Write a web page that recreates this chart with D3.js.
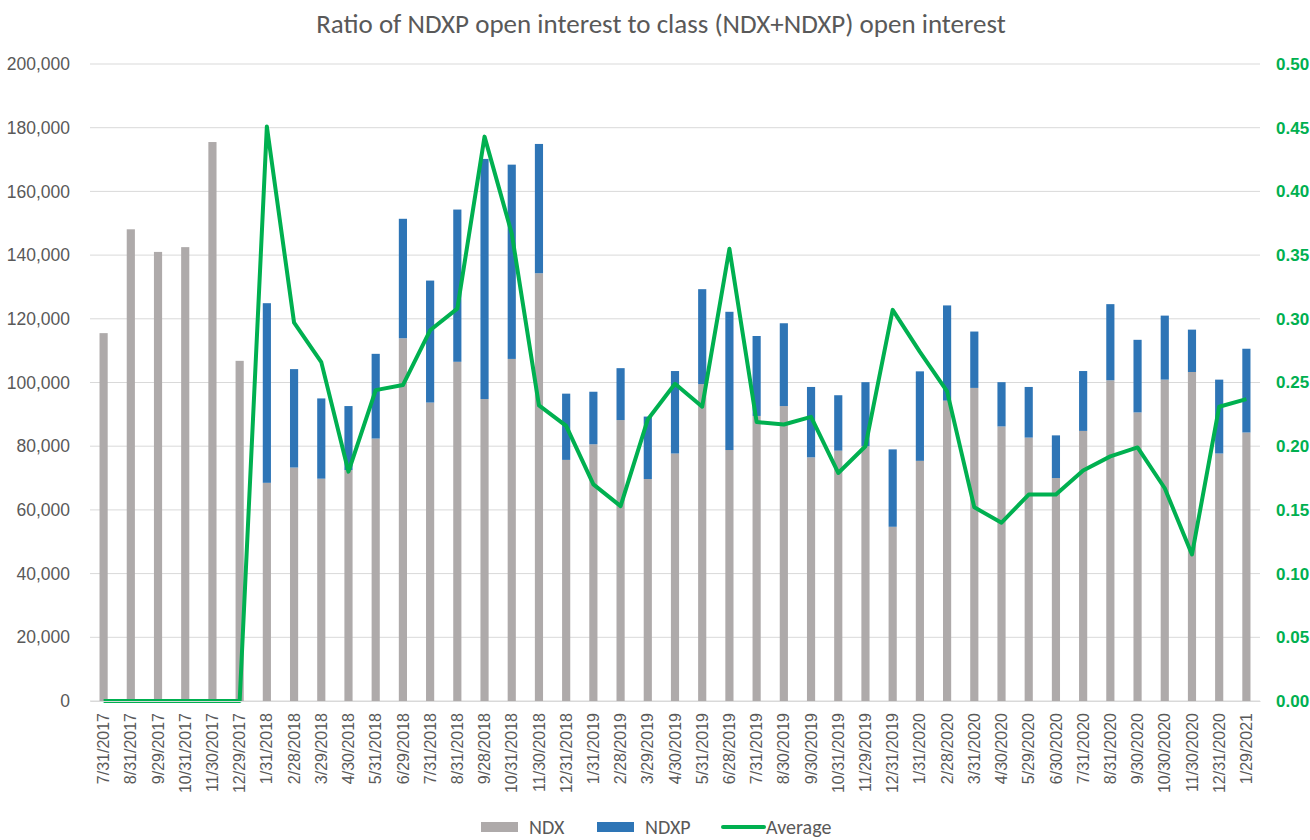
<!DOCTYPE html>
<html>
<head>
<meta charset="utf-8">
<script src="https://cdn.jsdelivr.net/npm/d3@7"></script>
<style>
  body { margin: 0; background: #fff; }
  svg { font-family: Calibri, Carlito, Lato, "Open Sans", sans-serif; }
</style>
</head>
<body>
<svg id="chart"></svg>
<script>
const dates = ['7/31/2017','8/31/2017','9/29/2017','10/31/2017','11/30/2017','12/29/2017',
  '1/31/2018','2/28/2018','3/29/2018','4/30/2018','5/31/2018','6/29/2018','7/31/2018','8/31/2018',
  '9/28/2018','10/31/2018','11/30/2018','12/31/2018','1/31/2019','2/28/2019','3/29/2019','4/30/2019',
  '5/31/2019','6/28/2019','7/31/2019','8/30/2019','9/30/2019','10/31/2019','11/29/2019','12/31/2019',
  '1/31/2020','2/28/2020','3/31/2020','4/30/2020','5/29/2020','6/30/2020','7/31/2020','8/31/2020',
  '9/30/2020','10/30/2020','11/30/2020','12/31/2020','1/29/2021'];

const ndx = [115500,148100,141000,142500,175500,106800,
  68500,73300,69800,72500,82400,113900,93700,106500,
  94800,107400,134300,75700,80600,88200,69700,77700,
  99500,78800,89500,92600,76500,78600,80000,54700,
  75400,94300,98300,86200,82700,70000,84800,100700,
  90600,100900,103300,77700,84300];

const totals = [115500,148100,141000,142500,175500,106800,
  124900,104200,95000,92600,109000,151400,132000,154300,
  170200,168400,174900,96500,97100,104500,89300,103600,
  129300,122200,114600,118600,98600,96000,100100,79000,
  103500,124200,116000,100100,98600,83400,103600,124600,
  113400,121000,116600,100900,110600];

const ndxp = totals.map((t, i) => t - ndx[i]);

const average = [0,0,0,0,0,0,
  0.451,0.297,0.266,0.180,0.244,0.248,0.291,0.308,
  0.443,0.367,0.232,0.216,0.170,0.153,0.221,0.249,
  0.231,0.355,0.219,0.217,0.223,0.179,0.200,0.307,
  0.274,0.243,0.152,0.140,0.162,0.162,0.181,0.192,
  0.199,0.167,0.115,0.231,0.237];

const leftTicks = [0,20000,40000,60000,80000,100000,120000,140000,160000,180000,200000];
const rightTicks = [0,0.05,0.1,0.15,0.2,0.25,0.3,0.35,0.4,0.45,0.5];

const width = 1310, height = 840;
const margin = { top: 64, right: 50, bottom: 139, left: 90 };

const svg = d3.select('#chart').attr('width', width).attr('height', height);

const x = d3.scaleBand()
  .domain(dates)
  .range([margin.left, width - margin.right])
  .paddingInner(0.7)
  .paddingOuter(0.35);

const y = d3.scaleLinear().domain([0, 200000]).range([height - margin.bottom, margin.top]);
const y2 = d3.scaleLinear().domain([0, 0.5]).range([height - margin.bottom, margin.top]);

// gridlines
svg.append('g')
  .selectAll('line')
  .data(leftTicks)
  .enter().append('line')
  .attr('x1', margin.left)
  .attr('x2', width - margin.right)
  .attr('y1', d => y(d))
  .attr('y2', d => y(d))
  .attr('stroke', '#d9d9d9')
  .attr('stroke-width', 1);

// stacked bars
const stack = d3.stack().keys(['ndx', 'ndxp'])(dates.map((d, i) => ({ date: d, ndx: ndx[i], ndxp: ndxp[i] })));
const colors = { ndx: '#aeaaaa', ndxp: '#2e75b6' };

svg.append('g')
  .selectAll('g')
  .data(stack)
  .enter().append('g')
  .attr('fill', s => colors[s.key])
  .selectAll('rect')
  .data(s => s)
  .enter().append('rect')
  .attr('x', d => x(d.data.date))
  .attr('y', d => y(d[1]))
  .attr('width', x.bandwidth())
  .attr('height', d => y(d[0]) - y(d[1]));

// average line
const line = d3.line()
  .x((d, i) => x(dates[i]) + x.bandwidth() / 2)
  .y(d => y2(d));

svg.append('path')
  .datum(average)
  .attr('d', line)
  .attr('fill', 'none')
  .attr('stroke', '#00b050')
  .attr('stroke-width', 4)
  .attr('stroke-linejoin', 'round');

// left axis
const leftAxis = svg.append('g')
  .attr('transform', `translate(${margin.left - 20},0)`)
  .call(d3.axisLeft(y).tickValues(leftTicks).tickFormat(d3.format(',')).tickSize(0));
leftAxis.select('.domain').remove();
leftAxis.selectAll('text')
  .attr('fill', '#595959')
  .style('font-size', '17.5px')
  .attr('x', 0);

// right axis
const rightAxis = svg.append('g')
  .attr('transform', `translate(1276,0)`)
  .call(d3.axisRight(y2).tickValues(rightTicks).tickFormat(d3.format('.2f')).tickSize(0));
rightAxis.select('.domain').remove();
rightAxis.selectAll('text')
  .attr('fill', '#00b050')
  .style('font-size', '17px')
  .style('font-weight', 'bold')
  .attr('x', 0);

// bottom axis
const bottomAxis = svg.append('g')
  .attr('transform', `translate(0,${height - margin.bottom})`)
  .call(d3.axisBottom(x).tickSize(0));
bottomAxis.select('.domain').attr('stroke', '#d9d9d9');
bottomAxis.selectAll('text')
  .attr('fill', '#595959')
  .style('font-size', '16px')
  .attr('text-anchor', 'end')
  .attr('transform', 'rotate(-90)')
  .attr('x', -12)
  .attr('y', 0)
  .attr('dy', '0.35em');

// title
svg.append('text')
  .attr('x', 661)
  .attr('y', 33)
  .attr('text-anchor', 'middle')
  .attr('fill', '#595959')
  .style('font-size', '27px')
  .text('Ratio of NDXP open interest to class (NDX+NDXP) open interest');

// legend
const legend = svg.append('g').attr('transform', `translate(0,827)`);
const legendItems = [
  { label: 'NDX', color: colors.ndx, type: 'rect', x: 481, tx: 529 },
  { label: 'NDXP', color: colors.ndxp, type: 'rect', x: 597, tx: 645 },
  { label: 'Average', color: '#00b050', type: 'line', x: 723, tx: 766 }
];
legendItems.forEach(item => {
  if (item.type === 'rect') {
    legend.append('rect').attr('x', item.x).attr('y', -5).attr('width', 37).attr('height', 10).attr('fill', item.color);
  } else {
    legend.append('line').attr('x1', item.x).attr('x2', item.x + 41).attr('y1', 0).attr('y2', 0)
      .attr('stroke', item.color).attr('stroke-width', 4).attr('stroke-linecap', 'round');
  }
  legend.append('text')
    .attr('x', item.tx)
    .attr('y', 0)
    .attr('dy', '0.35em')
    .attr('fill', '#595959')
    .style('font-size', '20px')
    .text(item.label);
});
</script>
</body>
</html>
